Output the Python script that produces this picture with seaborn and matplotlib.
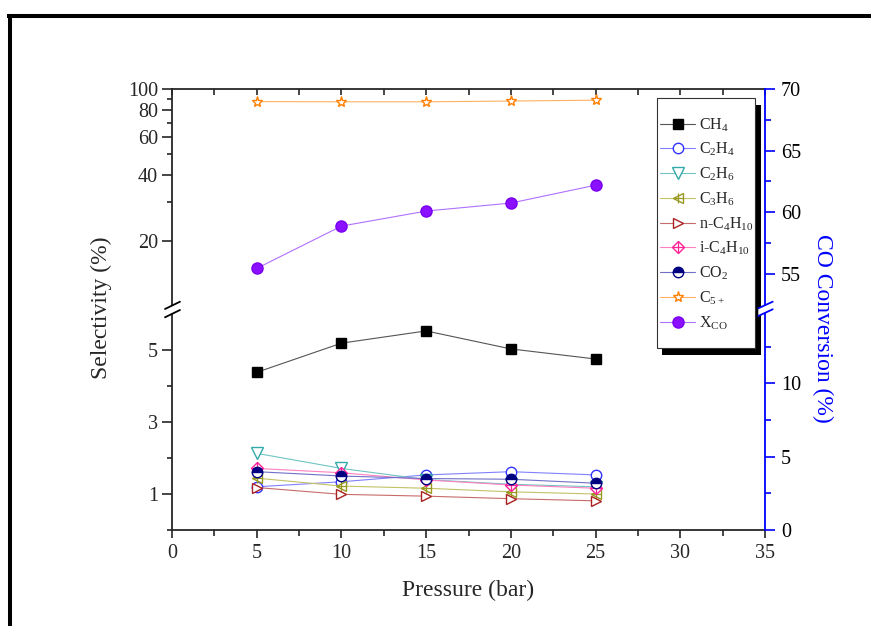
import numpy as np
import matplotlib
matplotlib.use("Agg")
import matplotlib.pyplot as plt
import seaborn as sns
from matplotlib.lines import Line2D
from matplotlib.patches import Rectangle, Polygon
from matplotlib.legend_handler import HandlerTuple
from matplotlib.ticker import FixedLocator, FuncFormatter, NullFormatter

# ---------------- data ----------------
pressure = [5, 10, 15, 20, 25]
ch4 = [4.38, 5.19, 5.53, 5.03, 4.75]
c2h4 = [1.20, 1.34, 1.53, 1.62, 1.53]
c2h6 = [2.13, 1.71, 1.40, 1.27, 1.20]
c3h6 = [1.44, 1.22, 1.16, 1.06, 1.00]
nc4h10 = [1.18, 0.99, 0.94, 0.87, 0.81]
ic4h10 = [1.71, 1.59, 1.39, 1.25, 1.16]
co2 = [1.62, 1.50, 1.43, 1.41, 1.30]
c5plus = [87.5, 87.3, 87.3, 88.0, 88.8]
x_co = [55.45, 58.88, 60.10, 60.75, 62.20]

labels = [r"CH$_4$", r"C$_2$H$_4$", r"C$_2$H$_6$", r"C$_3$H$_6$",
          r"n-C$_4$H$_{10}$", r"i-C$_4$H$_{10}$", r"CO$_2$", r"C$_{5+}$",
          r"X$_{\mathrm{CO}}$"]

# ---------------- style ----------------
sns.set_style("ticks")
plt.rcParams["font.family"] = ["Liberation Serif", "DejaVu Serif"]
plt.rcParams["mathtext.fontset"] = "custom"
plt.rcParams["mathtext.rm"] = "Liberation Serif"
plt.rcParams["mathtext.it"] = "Liberation Serif:italic"
plt.rcParams["mathtext.bf"] = "Liberation Serif:bold"
plt.rcParams["axes.linewidth"] = 1.3

W, H = 871, 626
fig = plt.figure(figsize=(W / 100, H / 100), dpi=100)


def fx(x):
    return x / W


def fy(y):
    return 1 - y / H


L, R, T, B, BRK = 172, 765, 89, 530, 310
ax_top = fig.add_axes([fx(L), fy(BRK), fx(R) - fx(L), fy(T) - fy(BRK)])
ax_bot = fig.add_axes([fx(L), fy(B), fx(R) - fx(L), fy(BRK) - fy(B)])
ax_top.set_yscale("log")
axr_top = ax_top.twinx()
axr_bot = ax_bot.twinx()

BLUE = "#0000ff"


def draw(ax, y, ecol, lcol, marker, ms, mfc, **kw):
    sns.lineplot(x=pressure, y=y, ax=ax, color=lcol, marker=marker,
                 markersize=ms, markerfacecolor=mfc, markeredgecolor=ecol,
                 markeredgewidth=1.0, linewidth=0.8, **kw)
    return ax.lines[-1]


def cross(ax, y, ecol, ms):
    sns.lineplot(x=pressure, y=y, ax=ax, color=ecol, marker="+",
                 markersize=ms, markeredgecolor=ecol, markeredgewidth=0.9,
                 linestyle="none")
    return ax.lines[-1]


h_ch4 = draw(ax_bot, ch4, "black", "#555555", "s", 6.5, "black")
h_c2h4 = draw(ax_bot, c2h4, "#3333ff", "#8080ff", "o", 7.5, "white")
h_c2h6 = draw(ax_bot, c2h6, "#33aaaa", "#70c4c4", "v", 8, "white")
h_c3h6 = draw(ax_bot, c3h6, "#999922", "#c2c266", "<", 7.5, "white")
h_c3h6x = cross(ax_bot, c3h6, "#999922", 7)
h_nc4 = draw(ax_bot, nc4h10, "#aa2222", "#c86a6a", ">", 7.5, "white")
h_ic4 = draw(ax_bot, ic4h10, "#ff2299", "#ff80c0", "D", 6.5, "white")
h_ic4x = cross(ax_bot, ic4h10, "#ff2299", 8)
h_co2 = draw(ax_bot, co2, "#000080", "#7070c8", "o", 7.5, "#000080",
             fillstyle="top", markerfacecoloralt="white")
h_c5 = draw(ax_top, c5plus, "#ff7f00", "#ffb060", "*", 8, "white")
h_xco = draw(axr_top, x_co, "#7a00f0", "#b070ff", "o", 8, "#8a10ff")

# ---------------- limits ----------------
for a in (ax_top, ax_bot):
    a.set_xlim(0, 35)
ax_top.set_ylim(10 ** (2 - (BRK - T) / 217.0), 100)
axr_top.set_ylim(70 - (BRK - T) / 12.33, 70)
ax_bot.set_ylim(0, (B - BRK) / 36.0)
axr_bot.set_ylim(0, 15.0)

# ---------------- spines ----------------
for a in (ax_top, ax_bot, axr_top, axr_bot):
    for s in a.spines.values():
        s.set_linewidth(1.3)
ax_top.spines["bottom"].set_visible(False)
ax_top.spines["right"].set_visible(False)
axr_top.spines["bottom"].set_visible(False)
axr_top.spines["left"].set_visible(False)
axr_top.spines["top"].set_visible(False)
ax_bot.spines["top"].set_visible(False)
ax_bot.spines["right"].set_visible(False)
axr_bot.spines["top"].set_visible(False)
axr_bot.spines["left"].set_visible(False)
axr_bot.spines["bottom"].set_visible(False)
for a in (axr_top, axr_bot):
    a.spines["right"].set_color(BLUE)

# ---------------- ticks ----------------
FS_TICK = 14.5
fmt = FuncFormatter(lambda v, p: f"{v:g}")

ax_bot.xaxis.set_major_locator(FixedLocator(np.arange(0, 36, 5)))
ax_bot.xaxis.set_minor_locator(FixedLocator(np.arange(2.5, 35, 5)))
ax_bot.xaxis.set_major_formatter(fmt)
ax_bot.tick_params(axis="x", which="major", direction="out", length=6,
                   width=1.2, labelsize=FS_TICK, top=False, pad=4)
ax_bot.tick_params(axis="x", which="minor", direction="out", length=4,
                   width=1.2, top=False)

ax_top.xaxis.set_major_locator(FixedLocator(np.arange(0, 36, 2.5)))
ax_top.xaxis.set_minor_locator(FixedLocator([]))
ax_top.tick_params(axis="x", which="both", direction="in", length=4.5,
                   width=1.2, top=True, bottom=False, labeltop=False,
                   labelbottom=False)

ax_top.yaxis.set_major_locator(FixedLocator([20, 40, 60, 80, 100]))
ax_top.yaxis.set_minor_locator(FixedLocator([30, 50, 70, 90]))
ax_top.yaxis.set_major_formatter(fmt)
ax_top.yaxis.set_minor_formatter(NullFormatter())
ax_top.tick_params(axis="y", which="major", direction="out", length=7,
                   width=1.2, labelsize=FS_TICK, pad=3)
ax_top.tick_params(axis="y", which="minor", direction="out", length=3.5,
                   width=1.2)

ax_bot.yaxis.set_major_locator(FixedLocator([1, 3, 5]))
ax_bot.yaxis.set_minor_locator(FixedLocator([0, 2, 4, 6]))
ax_bot.yaxis.set_major_formatter(fmt)
ax_bot.tick_params(axis="y", which="major", direction="out", length=7,
                   width=1.2, labelsize=FS_TICK, pad=3)
ax_bot.tick_params(axis="y", which="minor", direction="out", length=3.5,
                   width=1.2)

axr_top.yaxis.set_major_locator(FixedLocator([55, 60, 65, 70]))
axr_top.yaxis.set_minor_locator(FixedLocator([52.5, 57.5, 62.5, 67.5]))
axr_bot.yaxis.set_major_locator(FixedLocator([0, 5, 10]))
axr_bot.yaxis.set_minor_locator(FixedLocator([2.5, 7.5, 12.5]))
for a in (axr_top, axr_bot):
    a.yaxis.set_major_formatter(fmt)
    a.tick_params(axis="y", which="major", direction="out", length=7.5,
                  width=1.2, color=BLUE, labelsize=FS_TICK, labelcolor="black",
                  pad=4)
    a.tick_params(axis="y", which="minor", direction="out", length=4,
                  width=1.2, color=BLUE)

for a in (ax_top, ax_bot, axr_top, axr_bot):
    a.set_xlabel("")
    a.set_ylabel("")

# ---------------- axis labels ----------------
FS_LAB = 17
fig.text(fx(101), fy(308), "Selectivity (%)", rotation=90, ha="center",
         va="center", fontsize=FS_LAB)
fig.text(fx(823), fy(328), "CO Conversion (%)", rotation=270, ha="center",
         va="center", fontsize=FS_LAB, color=BLUE)
fig.text(fx(468.5), fy(590), "Pressure (bar)", ha="center", va="center",
         fontsize=FS_LAB)


# ---------------- break marks ----------------
def brk(x0, x1, yu0, yu1, yl0, yl1, col):
    poly = Polygon([(fx(x0), fy(yu0)), (fx(x1), fy(yu1)), (fx(x1), fy(yl1)),
                    (fx(x0), fy(yl0))], closed=True, transform=fig.transFigure,
                   facecolor="white", edgecolor="none", zorder=10)
    fig.add_artist(poly)
    for (a0, a1) in ((yu0, yu1), (yl0, yl1)):
        fig.add_artist(Line2D([fx(x0), fx(x1)], [fy(a0), fy(a1)],
                              transform=fig.transFigure, color=col, lw=1.3,
                              zorder=11))


brk(165, 180, 309, 301.7, 317.3, 310, "black")
brk(758.3, 772.7, 308.3, 301.7, 316, 309.3, BLUE)

# ---------------- legend ----------------
fig.add_artist(Rectangle((fx(662), fy(355)), fx(761) - fx(662),
                         fy(105) - fy(355), transform=fig.transFigure,
                         facecolor="black", edgecolor="none", zorder=3))
fig.add_artist(Rectangle((fx(657), fy(348)), fx(755) - fx(657),
                         fy(98) - fy(348), transform=fig.transFigure,
                         facecolor="white", edgecolor="#333333", lw=0.8,
                         zorder=4))
handles = [h_ch4, h_c2h4, h_c2h6, (h_c3h6, h_c3h6x), h_nc4, (h_ic4, h_ic4x),
           h_co2, h_c5, h_xco]
leg = fig.legend(handles, labels, loc="upper left",
                 bbox_to_anchor=(fx(657), fy(113)), frameon=False,
                 fontsize=11.5, handlelength=2.2, handletextpad=0.25,
                 labelspacing=0.46, borderpad=0.2, borderaxespad=0,
                 handler_map={tuple: HandlerTuple(ndivide=1)})
leg.set_zorder(6)

# ---------------- outer frame ----------------
fig.add_artist(Line2D([fx(7), fx(W + 5)], [fy(15.8), fy(15.8)],
                      transform=fig.transFigure, color="black", lw=2.9,
                      solid_capstyle="butt"))
fig.add_artist(Line2D([fx(9.5), fx(9.5)], [fy(14), fy(H + 5)],
                      transform=fig.transFigure, color="black", lw=2.9,
                      solid_capstyle="butt"))

fig.savefig("out.png", dpi=100)
